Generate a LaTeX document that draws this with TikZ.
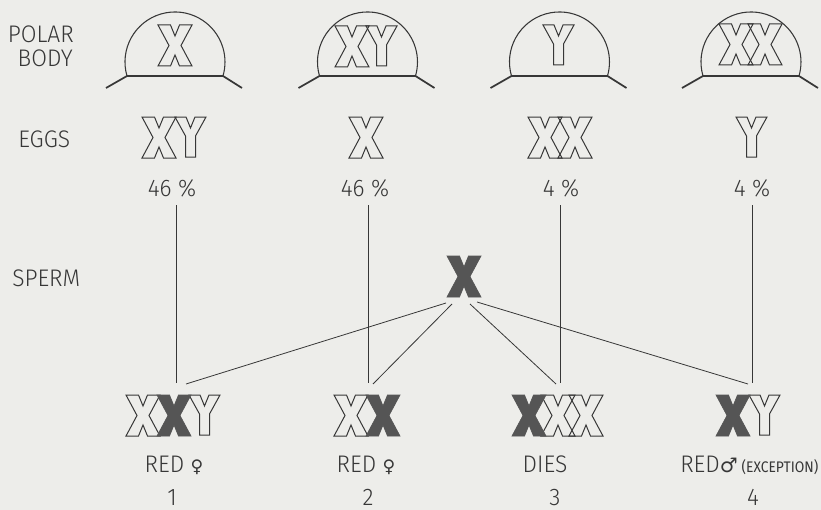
\documentclass[tikz,border=0pt]{standalone}
\usepackage{fontspec}
\setmainfont{Fira Sans Light}[FakeStretch=0.95]
\newfontfamily\symfont{DejaVu Sans}
\newfontfamily\capfont{Fira Sans}[FakeStretch=0.9]
\definecolor{paper}{RGB}{237,237,234}
\definecolor{ink}{RGB}{55,55,55}
\definecolor{solid}{RGB}{85,85,85}
\tikzset{
  lbl/.style={inner sep=0pt, anchor=base, text=ink, font=\fontsize{18}{20}\selectfont},
  outline/.style={draw=ink, line width=0.75pt, line join=miter},
  filled/.style={draw=solid, fill=solid, line width=0.5pt},
  xshape/.pic={\path[pic actions] (0,0)--(12.5,0)--(17,11)--(21.5,0)--(34,0)--(23,20.5)--(34,41)--(21.5,41)--(17,30)--(12.5,41)--(0,41)--(11,20.5)--cycle;},
  yshape/.pic={\path[pic actions] (0,0)--(11,0)--(15.5,11)--(20,0)--(31,0)--(20.5,19)--(20.5,40)--(10.5,40)--(10.5,19)--cycle;},
  link/.style={draw=ink, line width=0.6pt},
  dome/.style={draw=ink, line width=0.8pt},
  ground/.style={draw=ink, line width=1.3pt},
}
\begin{document}
\begin{tikzpicture}[x=0.75pt,y=-0.75pt]
\fill[paper] (0,0) rectangle (821,510);
\useasboundingbox (0,0) rectangle (821,510);

% row labels
\node[lbl, anchor=base east] (polar) at (74,43) {POLAR};
\node[lbl, anchor=base east] (body) at (73,67) {BODY};
\node[lbl, anchor=base west] (eggs) at (18,147) {EGGS};
\node[lbl, anchor=base west] (sperm) at (12,286) {SPERM};

% polar bodies: dome on a ground line
\foreach \c in {175,367.5,559.5,751}{
  \draw[dome] (\c-48,76) arc[start angle=163.7, end angle=376.3, radius=50];
  \draw[ground] (\c-69,88) -- (\c-48,76) -- (\c+48,76) -- (\c+67,88);
}
\pic[outline] at (158,25) {xshape};
\pic[outline] at (335,26) {xshape};
\pic[outline] at (366,26) {yshape};
\pic[outline] at (543,25) {yshape};
\pic[outline] at (719,24) {xshape};
\pic[outline] at (748,24) {xshape};

% eggs
\pic[outline] at (142,117) {xshape};
\pic[outline] at (175,117) {yshape};
\pic[outline] at (349,117) {xshape};
\pic[outline] at (528,117) {xshape};
\pic[outline] at (558,117) {xshape};
\pic[outline] at (736,117) {yshape};

\node[lbl] (p1) at (172,196) {46 \%};
\node[lbl] (p2) at (365,196) {46 \%};
\node[lbl] (p3) at (561,196) {4 \%};
\node[lbl] (p4) at (752,196) {4 \%};

% sperm
\pic[filled] at (447,256) {xshape};

% zygotes
\pic[outline] at (126,395) {xshape};
\pic[outline] at (189,395) {yshape};
\pic[filled] at (157,395) {xshape};

\pic[outline] at (334,395) {xshape};
\pic[filled] at (366,395) {xshape};

\pic[outline] at (541,395) {xshape};
\pic[outline] at (569,395) {xshape};
\pic[filled] at (512,395) {xshape};

\pic[outline] at (749,395) {yshape};
\pic[filled] at (716,395) {xshape};

% connector ends
\coordinate (e1) at (176,205);  \coordinate (z1) at (176,383);
\coordinate (e2) at (368,205);  \coordinate (z2) at (368,383);
\coordinate (e3) at (560,205);  \coordinate (z3) at (560,383);
\coordinate (e4) at (752,205);  \coordinate (z4) at (752,383);
\coordinate (s1) at (446,303);  \coordinate (f1) at (186,384);
\coordinate (s2) at (452,304);  \coordinate (f2) at (373,384);
\coordinate (s3) at (470,304);  \coordinate (f3) at (556,384);
\coordinate (s4) at (477,302);  \coordinate (f4) at (748,384);

\draw[link] (e1) -- (z1);
\draw[link] (e2) -- (z2);
\draw[link] (e3) -- (z3);
\draw[link] (e4) -- (z4);
\draw[link] (s1) -- (f1);
\draw[link] (s2) -- (f2);
\draw[link] (s3) -- (f3);
\draw[link] (s4) -- (f4);

% outcomes
\node[lbl] (r1) at (174,472) {RED {\symfont\fontsize{13}{14}\selectfont ♀}};
\node[lbl] (r2) at (366,472) {RED {\symfont\fontsize{13}{14}\selectfont ♀}};
\node[lbl] (r3) at (545,472) {DIES};
\node[lbl, anchor=base west] (r4) at (680,472) {RED{\symfont\fontsize{15}{15}\selectfont ♂}\,{\capfont\fontsize{11.5}{12}\selectfont (EXCEPTION)}};

\node[lbl] (n1) at (172,505) {1};
\node[lbl] (n2) at (368,505) {2};
\node[lbl] (n3) at (555,505) {3};
\node[lbl] (n4) at (753,505) {4};
\end{tikzpicture}
\end{document}
